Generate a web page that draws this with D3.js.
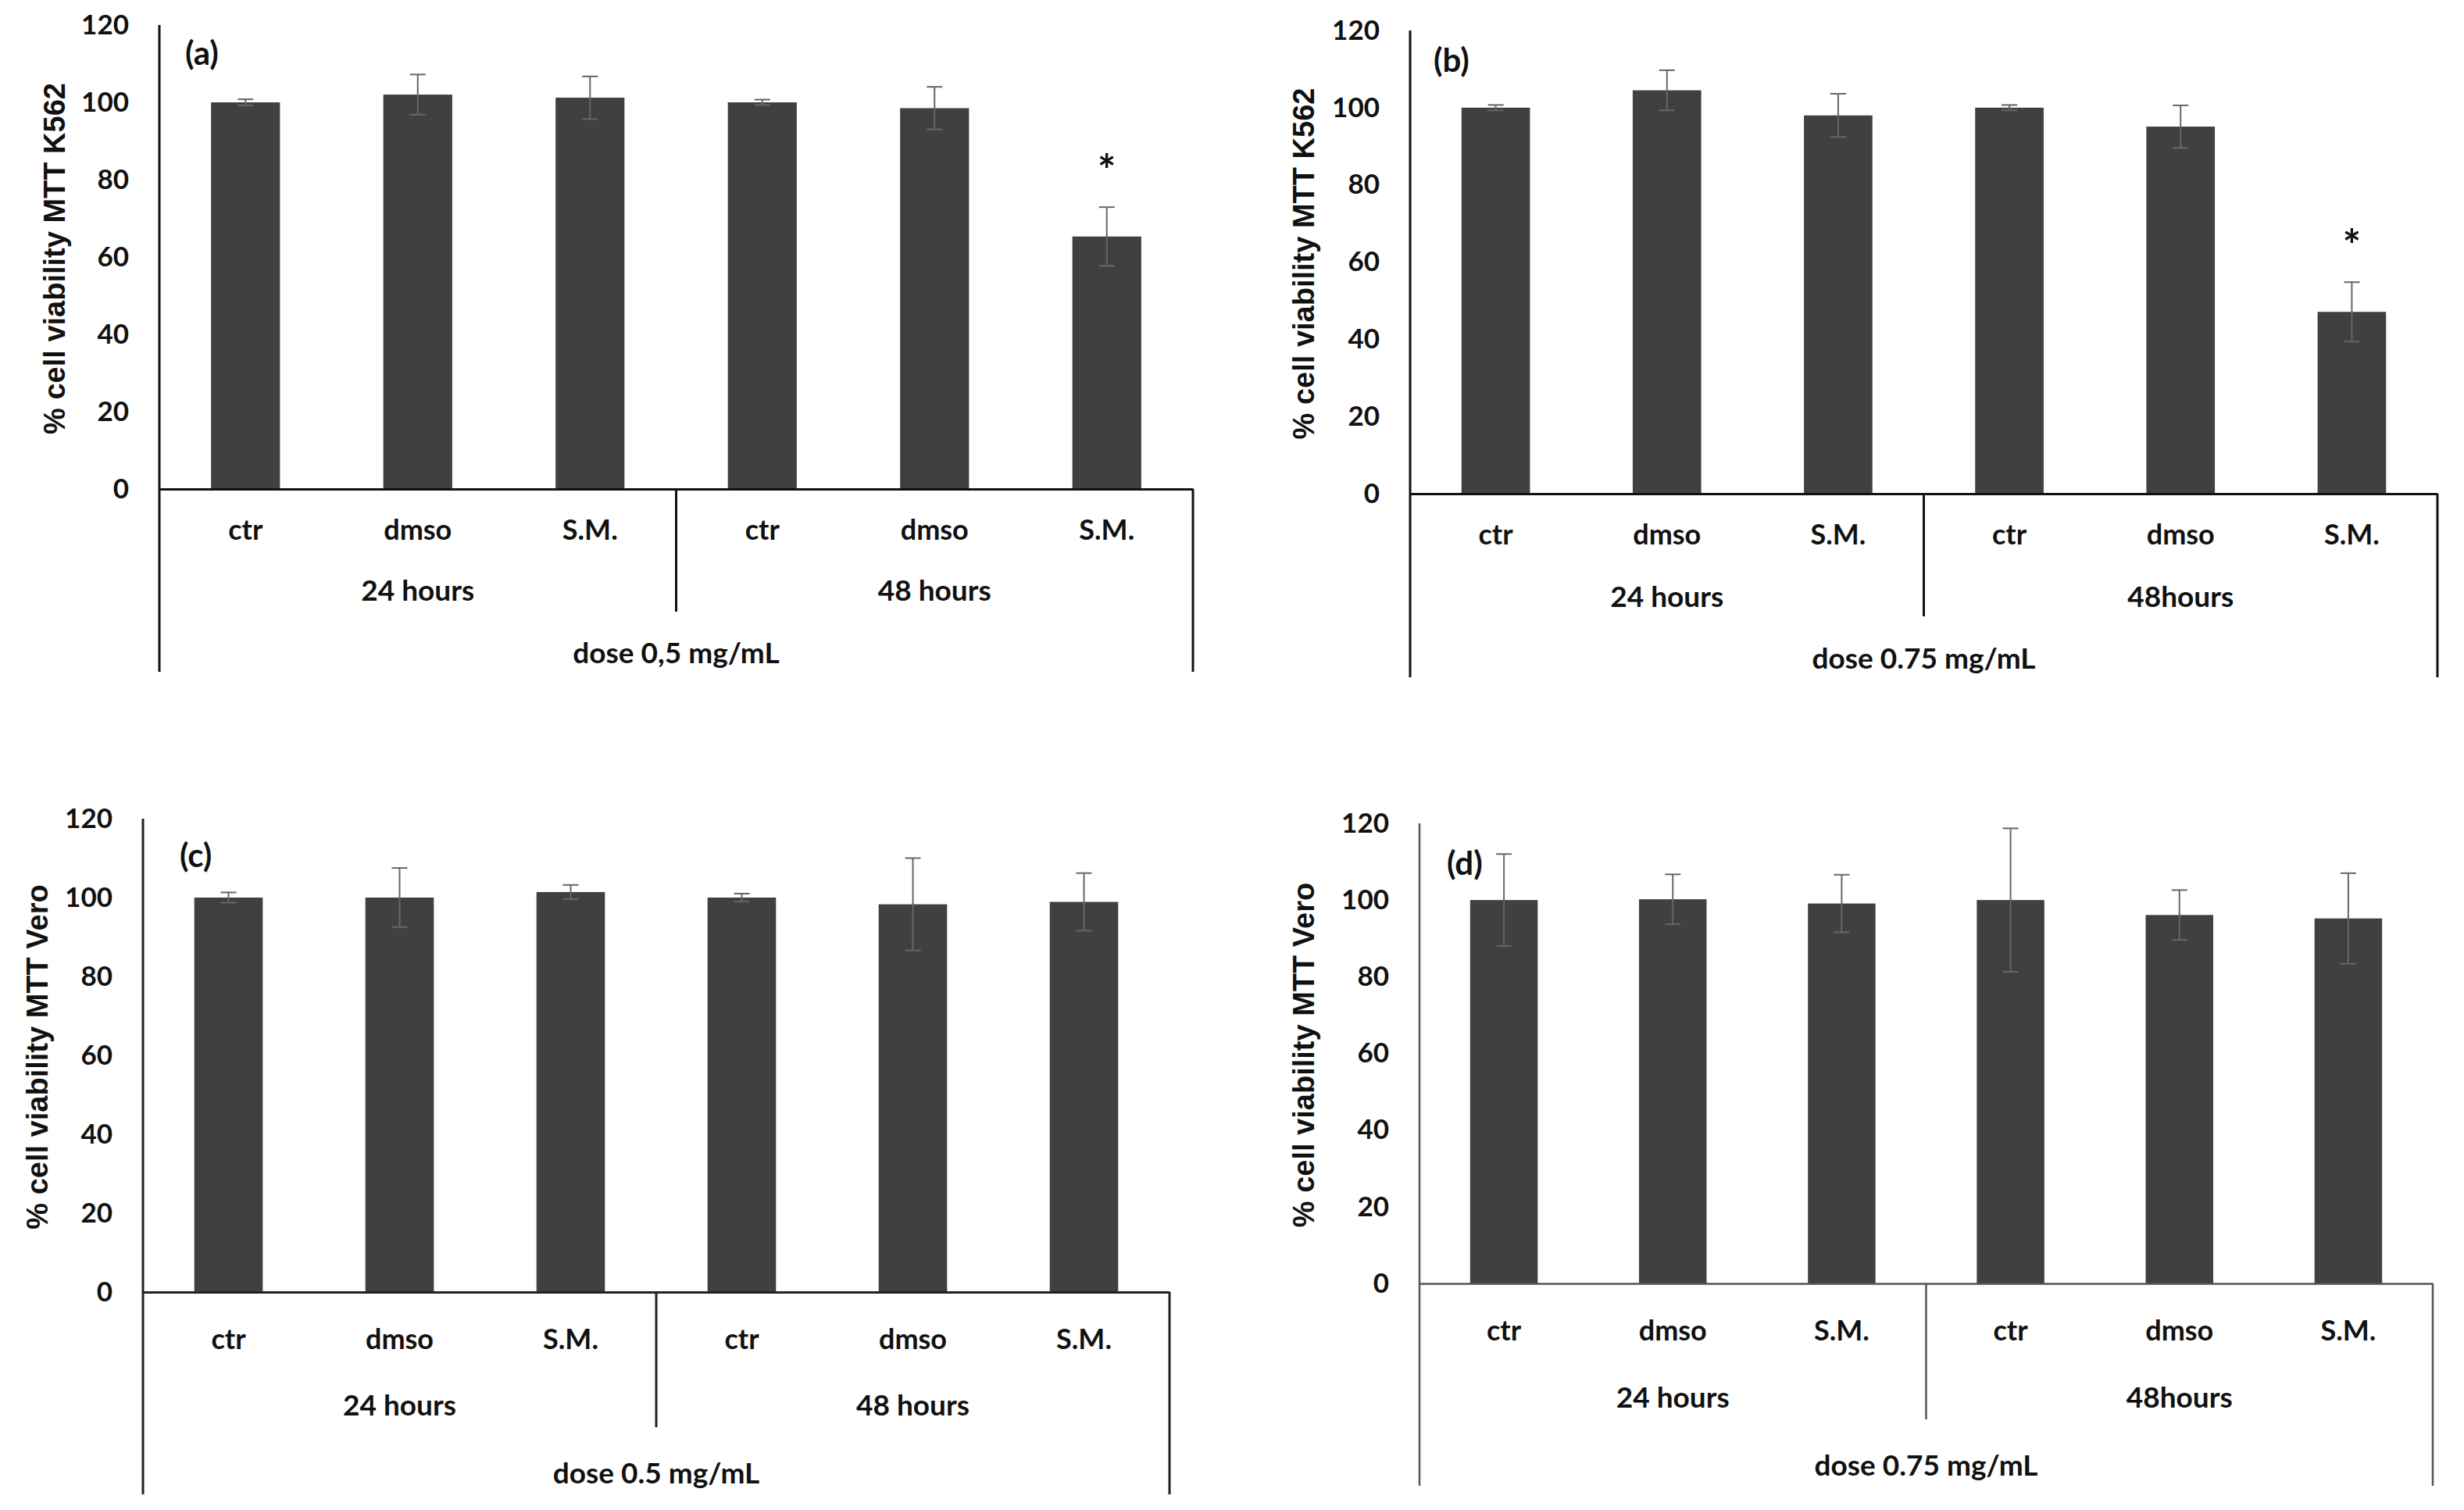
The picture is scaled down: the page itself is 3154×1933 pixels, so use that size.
<!DOCTYPE html>
<html>
<head>
<meta charset="utf-8">
<script src="https://cdn.jsdelivr.net/npm/d3@7"></script>
<style>
  html, body { margin: 0; padding: 0; background: #fff; }
  svg { display: block; }
</style>
</head>
<body>
<svg id="chart" width="3154" height="1933"></svg>
<script>

// data
const categories = ["ctr", "dmso", "S.M.", "ctr", "dmso", "S.M."];
const yTicks = [0, 20, 40, 60, 80, 100, 120];

const groupsA = ["24 hours", "48 hours"];
const groupsB = ["24 hours", "48hours"];

const valuesA = [100, 102, 101.2, 100, 98.5, 65.3];
const errorsA = [0.8, 5.2, 5.5, 0.7, 5.5, 7.6];
const starsA  = ["", "", "", "", "", "*"];

const valuesB = [100, 104.5, 98, 100, 95.1, 47.1];
const errorsB = [0.7, 5.2, 5.6, 0.7, 5.5, 7.7];
const starsB  = ["", "", "", "", "", "*"];

const valuesC = [100, 100, 101.4, 100, 98.3, 98.9];
const errorsC = [1.3, 7.5, 1.8, 1.0, 11.7, 7.3];

const valuesD = [100, 100.2, 99.1, 100, 96.1, 95.2];
const errorsD = [12, 6.5, 7.5, 18.7, 6.5, 11.8];

const panels = [
    { tag: "(a)", values: valuesA, errors: errorsA, stars: starsA, groups: groupsA,
      dose: "dose 0,5 mg/mL", ylab: "% cell viability MTT K562",
      left: 204, right: 1527, top: 32, zero: 626,
      catDy: 52, groupDy: 130, doseDy: 210, divDy: 157, bottomDy: 234,
      ylabX: 70, tagDx: 33, tagDy: 36, axis: "#111", axisW: 3 },
    { tag: "(b)", values: valuesB, errors: errorsB, stars: starsB, groups: groupsB,
      dose: "dose 0.75 mg/mL", ylab: "% cell viability MTT K562",
      left: 1805, right: 3120, top: 39, zero: 632,
      catDy: 52, groupDy: 132, doseDy: 211, divDy: 157, bottomDy: 235,
      ylabX: 1669, tagDx: 30, tagDy: 38, axis: "#111", axisW: 3 },
    { tag: "(c)", values: valuesC, errors: errorsC, stars: null, groups: groupsA,
      dose: "dose 0.5 mg/mL", ylab: "% cell viability MTT Vero",
      left: 183, right: 1497, top: 1048, zero: 1654,
      catDy: 60, groupDy: 145, doseDy: 232, divDy: 173, bottomDy: 259,
      ylabX: 48, tagDx: 47, tagDy: 47, axis: "#222", axisW: 3 },
    { tag: "(d)", values: valuesD, errors: errorsD, stars: null, groups: groupsB,
      dose: "dose 0.75 mg/mL", ylab: "% cell viability MTT Vero",
      left: 1817, right: 3114, top: 1054, zero: 1643,
      catDy: 60, groupDy: 146, doseDy: 233, divDy: 174, bottomDy: 259,
      ylabX: 1669, tagDx: 35, tagDy: 51, axis: "#555", axisW: 2.5 }
];

const barColor = "#404040";
const errColor = "#666";
const txtFont = "Lato, 'Open Sans', sans-serif";

const svg = d3.select("#chart");

panels.forEach(p => {
    const g = svg.append("g");
    const keys = categories.map((c, i) => i);

    const x = d3.scaleBand()
        .domain(keys)
        .range([p.left, p.right])
        .paddingInner(0.6)
        .paddingOuter(0.3);

    const y = d3.scaleLinear()
        .domain([0, 120])
        .range([p.zero, p.top]);

    // y axis labels, no tick marks
    const ya = g.append("g")
        .attr("transform", `translate(${p.left},0)`)
        .call(d3.axisLeft(y).tickValues(yTicks).tickSize(0).tickPadding(39));
    ya.select(".domain").remove();
    ya.selectAll("text")
        .attr("font-family", txtFont)
        .attr("font-weight", "bold")
        .attr("font-size", 35)
        .attr("fill", "#111");

    // bars
    g.selectAll("rect.bar")
        .data(p.values)
        .join("rect")
        .attr("class", "bar")
        .attr("x", (d, i) => x(i))
        .attr("width", x.bandwidth())
        .attr("y", d => y(d))
        .attr("height", d => y(0) - y(d))
        .attr("fill", barColor);

    // error bars
    const cap = 10;
    const eb = g.selectAll("g.err")
        .data(p.values)
        .join("g")
        .attr("class", "err")
        .attr("stroke", errColor)
        .attr("stroke-width", 2);
    eb.append("line")
        .attr("x1", (d, i) => x(i) + x.bandwidth() / 2)
        .attr("x2", (d, i) => x(i) + x.bandwidth() / 2)
        .attr("y1", (d, i) => y(d + p.errors[i]))
        .attr("y2", (d, i) => y(d - p.errors[i]));
    [1, -1].forEach(s => {
        eb.append("line")
            .attr("x1", (d, i) => x(i) + x.bandwidth() / 2 - cap)
            .attr("x2", (d, i) => x(i) + x.bandwidth() / 2 + cap)
            .attr("y1", (d, i) => y(d + s * p.errors[i]))
            .attr("y2", (d, i) => y(d + s * p.errors[i]));
    });

    // significance stars
    if (p.stars) {
        g.selectAll("text.star")
            .data(p.values)
            .join("text")
            .attr("class", "star")
            .attr("x", (d, i) => x(i) + x.bandwidth() / 2)
            .attr("y", (d, i) => y(d + p.errors[i] + 12) + 32)
            .attr("text-anchor", "middle")
            .attr("font-family", txtFont)
            .attr("font-weight", "bold")
            .attr("font-size", 56)
            .attr("fill", "#111")
            .text((d, i) => p.stars[i]);
    }

    // category axis (its domain is the zero line)
    const xa = g.append("g")
        .attr("transform", `translate(0,${p.zero})`)
        .call(d3.axisBottom(x).tickSize(0).tickSizeOuter(0).tickPadding(0)
            .tickFormat(i => categories[i]));
    xa.select(".domain")
        .attr("stroke", p.axis)
        .attr("stroke-width", p.axisW);
    xa.selectAll("text")
        .attr("y", p.catDy)
        .attr("dy", "0.35em")
        .attr("font-family", txtFont)
        .attr("font-weight", "bold")
        .attr("font-size", 36)
        .attr("fill", "#111");

    // frame lines of the multi-level category axis
    const mid = (p.left + p.right) / 2;
    const frame = [
        [p.left, p.top, p.left, p.zero + p.bottomDy],
        [p.right, p.zero, p.right, p.zero + p.bottomDy],
        [mid, p.zero, mid, p.zero + p.divDy]
    ];
    g.selectAll("line.frame")
        .data(frame)
        .join("line")
        .attr("class", "frame")
        .attr("x1", d => d[0]).attr("y1", d => d[1])
        .attr("x2", d => d[2]).attr("y2", d => d[3])
        .attr("stroke", p.axis)
        .attr("stroke-width", p.axisW);

    // group labels
    g.selectAll("text.grp")
        .data(p.groups)
        .join("text")
        .attr("class", "grp")
        .attr("x", (d, i) => (x(i * 3) + x(i * 3 + 2) + x.bandwidth()) / 2)
        .attr("y", p.zero + p.groupDy)
        .attr("dy", "0.35em")
        .attr("text-anchor", "middle")
        .attr("font-family", txtFont)
        .attr("font-weight", "bold")
        .attr("font-size", 37)
        .attr("fill", "#111")
        .text(d => d);

    g.append("text")
        .attr("x", mid)
        .attr("y", p.zero + p.doseDy)
        .attr("dy", "0.35em")
        .attr("text-anchor", "middle")
        .attr("font-family", txtFont)
        .attr("font-weight", "bold")
        .attr("font-size", 37)
        .attr("fill", "#111")
        .text(p.dose);

    // panel tag
    g.append("text")
        .attr("x", p.left + p.tagDx)
        .attr("y", p.top + p.tagDy)
        .attr("dy", "0.35em")
        .attr("font-family", txtFont)
        .attr("font-weight", "bold")
        .attr("font-size", 42)
        .attr("fill", "#111")
        .text(p.tag);

    // y axis title
    const cy = (y(0) + y(120)) / 2 + 2;
    g.append("text")
        .attr("transform", `translate(${p.ylabX},${cy}) rotate(-90)`)
        .attr("dy", "0.35em")
        .attr("text-anchor", "middle")
        .attr("font-family", "'Liberation Sans', Arial, sans-serif")
        .attr("font-weight", "bold")
        .attr("font-size", 38)
        .attr("fill", "#111")
        .text(p.ylab);
});

</script>
</body>
</html>
